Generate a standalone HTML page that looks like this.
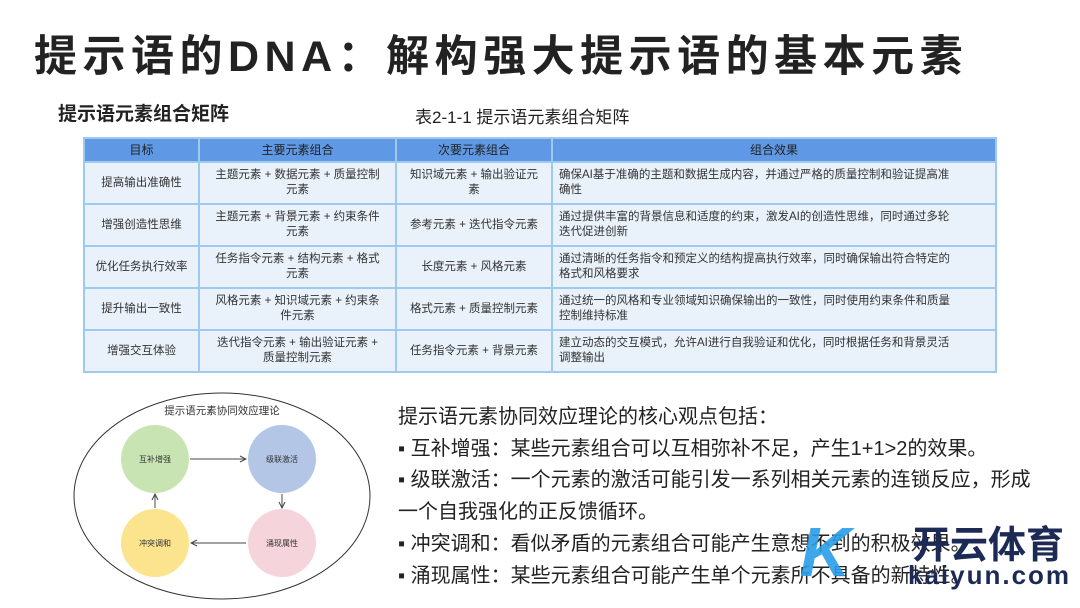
<!DOCTYPE html>
<html><head><meta charset="utf-8"><style>
body{margin:0;width:1080px;height:608px;background:#fff;position:relative;overflow:hidden;font-family:"Liberation Sans","Noto Sans CJK SC",sans-serif;color:#222}
.abs{position:absolute;white-space:nowrap}
table{position:absolute;left:83px;top:137px;border-collapse:collapse;font-size:11.5px;color:#333;table-layout:fixed;width:912px}
td,th{border:2px solid #9fcaf0;padding:0 6px;line-height:15px;overflow:hidden}
th{background:#5f98e4;height:22px;font-weight:normal;color:#222;font-size:12px}
td{background:#e9f1fa;height:40px;text-align:center}
td.l{text-align:left}
.t{font-size:20px;color:#222}
</style></head><body>
<div class="abs" style="left:34px;top:22px;font-size:43px;font-weight:bold;letter-spacing:5.5px;color:#222">提示语的DNA：解构强大提示语的基本元素</div>
<div class="abs" style="left:58px;top:99px;font-size:19px;font-weight:bold">提示语元素组合矩阵</div>
<div class="abs" style="left:415px;top:103px;font-size:17px">表2-1-1 提示语元素组合矩阵</div>
<table>
<colgroup><col style="width:115px"><col style="width:197px"><col style="width:156px"><col style="width:444px"></colgroup>
<tr><th>目标</th><th>主要元素组合</th><th>次要元素组合</th><th>组合效果</th></tr>
<tr><td>提高输出准确性</td><td>主题元素 + 数据元素 + 质量控制<br>元素</td><td>知识域元素 + 输出验证元<br>素</td><td class="l">确保AI基于准确的主题和数据生成内容，并通过严格的质量控制和验证提高准<br>确性</td></tr>
<tr><td>增强创造性思维</td><td>主题元素 + 背景元素 + 约束条件<br>元素</td><td>参考元素 + 迭代指令元素</td><td class="l">通过提供丰富的背景信息和适度的约束，激发AI的创造性思维，同时通过多轮<br>迭代促进创新</td></tr>
<tr><td>优化任务执行效率</td><td>任务指令元素 + 结构元素 + 格式<br>元素</td><td>长度元素 + 风格元素</td><td class="l">通过清晰的任务指令和预定义的结构提高执行效率，同时确保输出符合特定的<br>格式和风格要求</td></tr>
<tr><td>提升输出一致性</td><td>风格元素 + 知识域元素 + 约束条<br>件元素</td><td>格式元素 + 质量控制元素</td><td class="l">通过统一的风格和专业领域知识确保输出的一致性，同时使用约束条件和质量<br>控制维持标准</td></tr>
<tr><td>增强交互体验</td><td>迭代指令元素 + 输出验证元素 +<br>质量控制元素</td><td>任务指令元素 + 背景元素</td><td class="l">建立动态的交互模式，允许AI进行自我验证和优化，同时根据任务和背景灵活<br>调整输出</td></tr>
</table>
<svg class="abs" style="left:0;top:0" width="1080" height="608">
<defs><marker id="a" markerWidth="8" markerHeight="8" refX="7" refY="4" orient="auto"><path d="M1,1 L7,4 L1,7" fill="none" stroke="#444" stroke-width="1"/></marker></defs>
<ellipse cx="222" cy="496" rx="148" ry="103" fill="none" stroke="#333" stroke-width="1"/>
<text x="222" y="414" font-size="10.5" text-anchor="middle" fill="#333" font-family="Liberation Sans, Noto Sans CJK SC, sans-serif">提示语元素协同效应理论</text>
<circle cx="155" cy="459" r="34" fill="#c8e4b3"/>
<circle cx="282" cy="459" r="34" fill="#b3c6e6"/>
<circle cx="282" cy="543" r="34" fill="#f5d4dc"/>
<circle cx="155" cy="543" r="34" fill="#fce38e"/>
<g font-size="8" text-anchor="middle" fill="#333" font-family="Liberation Sans, Noto Sans CJK SC, sans-serif">
<text x="155" y="462">互补增强</text><text x="282" y="462">级联激活</text><text x="282" y="546">涌现属性</text><text x="155" y="546">冲突调和</text></g>
<g stroke="#444" stroke-width="1" fill="none" marker-end="url(#a)">
<line x1="190" y1="459" x2="246" y2="459"/><line x1="282" y1="494" x2="282" y2="508"/>
<line x1="246" y1="543" x2="191" y2="543"/><line x1="155" y1="508" x2="155" y2="494"/></g>
</svg>
<div class="abs t" style="left:398px;top:400px">提示语元素协同效应理论的核心观点包括：</div>
<div class="abs t" style="left:398px;top:432px">▪ 互补增强：某些元素组合可以互相弥补不足，产生1+1&gt;2的效果。</div>
<div class="abs t" style="left:398px;top:463px">▪ 级联激活：一个元素的激活可能引发一系列相关元素的连锁反应，形成</div>
<div class="abs t" style="left:398px;top:495px">一个自我强化的正反馈循环。</div>
<div class="abs t" style="left:398px;top:527px">▪ 冲突调和：看似矛盾的元素组合可能产生意想不到的积极效果。</div>
<div class="abs t" style="left:398px;top:559px">▪ 涌现属性：某些元素组合可能产生单个元素所不具备的新特性。</div>
<div class="abs" style="left:800px;top:512px;font-size:70px;font-style:italic;font-weight:bold;color:#2a9de8;opacity:.9">K</div>
<div class="abs" style="left:912px;top:514px;font-size:38px;font-weight:bold;color:#1c2a55">开云体育</div>
<div class="abs" style="left:908px;top:560px;font-size:26px;font-weight:bold;color:#1c2a55;letter-spacing:2px">kaiyun.com</div>
</body></html>
